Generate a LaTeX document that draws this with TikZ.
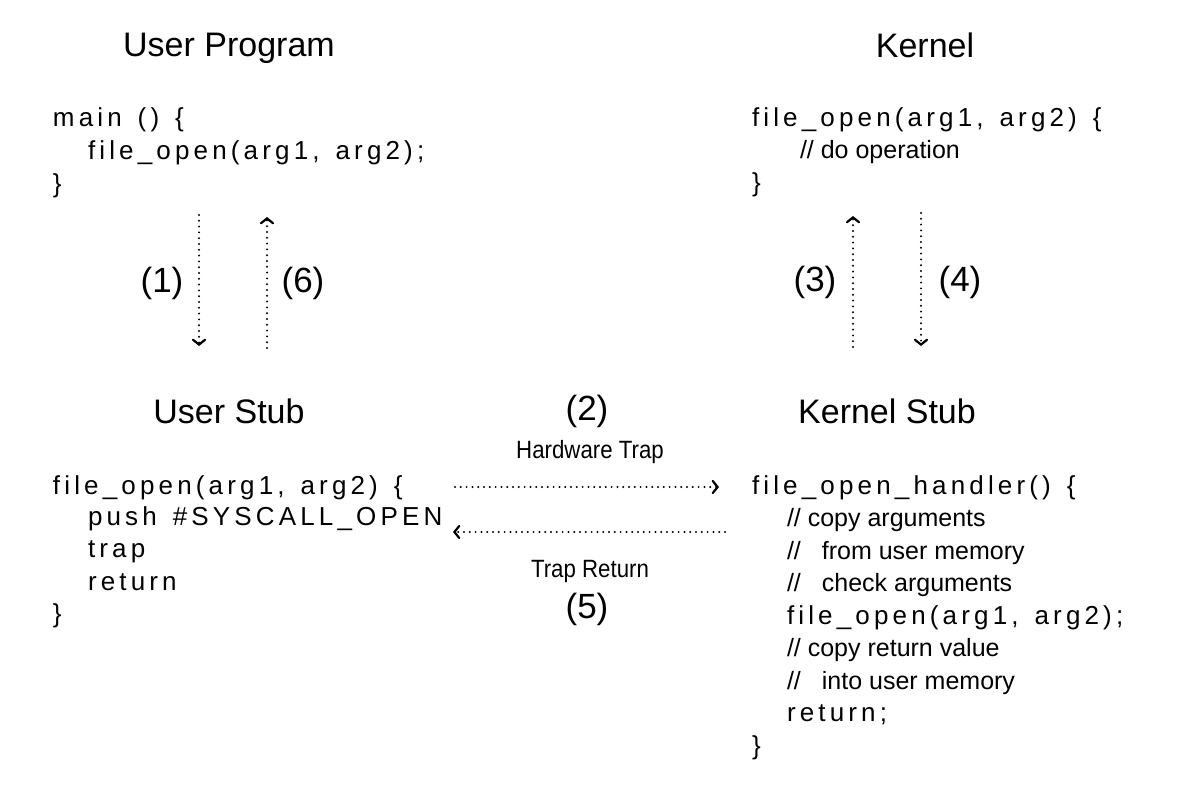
\documentclass[tikz,border=0pt]{standalone}
\usepackage{fontspec}
\setmainfont{Liberation Sans}
\newfontfamily\codefont[LetterSpace=16,WordSpace=1.4]{Liberation Sans}
\newfontfamily\narrowfont[FakeStretch=0.89]{Liberation Sans}
\usetikzlibrary{arrows.meta}

\begin{document}
\begin{tikzpicture}
[x=0.5pt,y=-0.5pt,
every node/.style={inner sep=0pt,outer sep=0pt},
title/.style={anchor=base,font=\fontsize{17}{20}\selectfont},
code/.style={anchor=base west,font=\codefont\fontsize{13}{16}\selectfont},
remark/.style={anchor=base west,font=\fontsize{12.5}{15}\selectfont},
num/.style={font=\fontsize{17.5}{21}\selectfont},
trapname/.style={anchor=base,font=\narrowfont\fontsize{12.5}{15}\selectfont},
flow/.style={line width=1.1pt,line cap=round,dash pattern=on 0pt off 2.9pt,
	-{Straight Barb[length=2.4pt,width=6pt,line cap=round]}}]

\useasboundingbox (0,0) rectangle (1178,802);

\node[title] (userprog) at (229,57) {User Program};
\node[title] (kernel) at (925,58) {Kernel};
\node[title] (userstub) at (229,423) {User Stub};
\node[title] (kernelstub) at (887,423) {Kernel Stub};

\node[code] (p1) at (53,127) {main () \{};
\node[code] (p2) at (88,160) {file\_open(arg1, arg2);};
\node[code] (p3) at (53,193) {\}};

\node[code] (k1) at (752,127) {file\_open(arg1, arg2) \{};
\node[remark] (k2) at (800,159) {// do operation};
\node[code] (k3) at (752,192) {\}};

\node[code] (s1) at (53,494) {file\_open(arg1, arg2) \{};
\node[code] (s2) at (88,525) {push \#SYSCALL\_OPEN};
\node[code] (s3) at (88,557) {trap};
\node[code] (s4) at (88,590) {return};
\node[code] (s5) at (53,622) {\}};

\node[code] (h1) at (752,494) {file\_open\_handler() \{};
\node[remark] (h2) at (787,526) {// copy arguments};
\node[remark] (h3) at (787,559) {//\hspace{10.5pt}from user memory};
\node[remark] (h4) at (787,591) {//\hspace{10.5pt}check arguments};
\node[code] (h5) at (787,624) {file\_open(arg1, arg2);};
\node[remark] (h6) at (787,656) {// copy return value};
\node[remark] (h7) at (787,689) {//\hspace{10.5pt}into user memory};
\node[code] (h8) at (787,721) {return;};
\node[code] (h9) at (752,754) {\}};

\node[num] (n1) at (162,283) {(1)};
\node[num] (n6) at (303,283) {(6)};
\node[num] (n3) at (815,282) {(3)};
\node[num] (n4) at (960,282) {(4)};
\node[num] (n2) at (587,411) {(2)};
\node[num] (n5) at (587,609) {(5)};
\node[trapname] (hw) at (590,458) {Hardware Trap};
\node[trapname] (tr) at (590,577) {Trap Return};

\coordinate (a1s) at (199,215);
\coordinate (a1e) at (199,346);
\coordinate (a6s) at (267,348);
\coordinate (a6e) at (267,217);
\coordinate (a3s) at (853,347);
\coordinate (a3e) at (853,216);
\coordinate (a4s) at (921,213);
\coordinate (a4e) at (921,346);
\coordinate (a2s) at (455,487);
\coordinate (a2e) at (719,487);
\coordinate (a5s) at (725,532);
\coordinate (a5e) at (453,532);

\draw[flow] (a1s) -- (a1e);
\draw[flow] (a6s) -- (a6e);
\draw[flow] (a3s) -- (a3e);
\draw[flow] (a4s) -- (a4e);
\draw[flow] (a2s) -- (a2e);
\draw[flow] (a5s) -- (a5e);
\end{tikzpicture}
\end{document}
